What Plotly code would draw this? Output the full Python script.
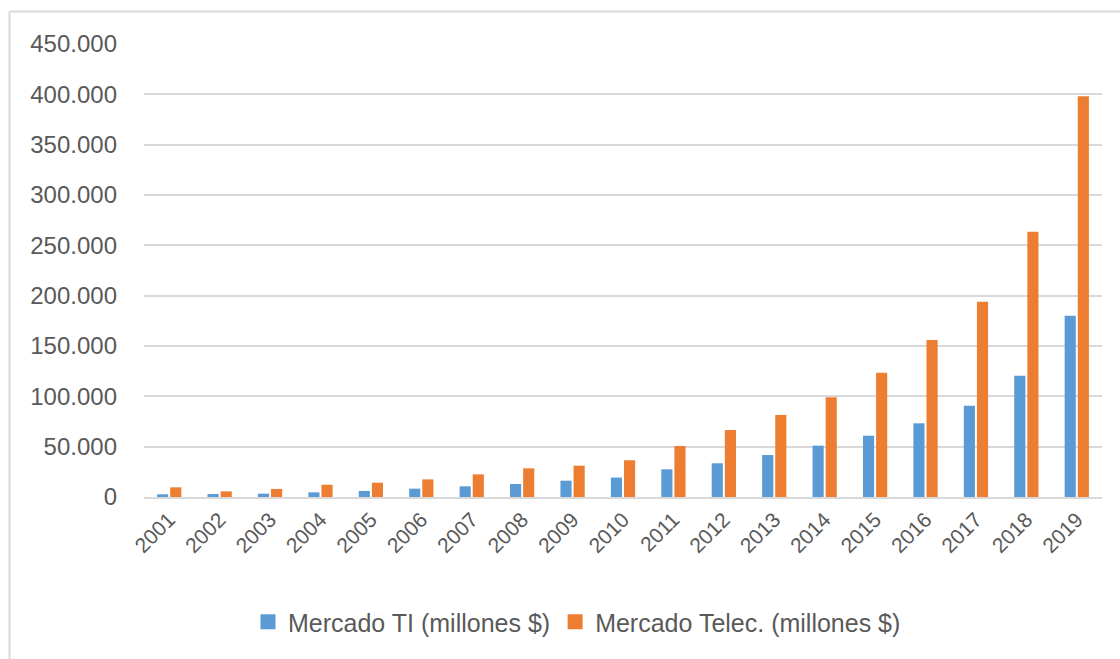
import plotly.graph_objects as go

# Annual market size, millions of dollars
years = [str(y) for y in range(2001, 2020)]
mercado_ti = [2700, 3000, 3300, 4600, 6000, 8300, 10600, 12900, 16200, 19300,
              27500, 33500, 41700, 51000, 60900, 73200, 90700, 120500, 180100]
mercado_telec = [9600, 5600, 8000, 12200, 14200, 17500, 22500, 28500, 31100, 36500,
                 50700, 66500, 81500, 99000, 123500, 156000, 194000, 263500, 398000]
y_ticks = [0, 50000, 100000, 150000, 200000, 250000, 300000, 350000, 400000, 450000]
y_tick_text = ["0", "50.000", "100.000", "150.000", "200.000", "250.000",
               "300.000", "350.000", "400.000", "450.000"]
series_names = ["Mercado TI (millones $)", "Mercado Telec. (millones $)"]

BLUE = "#5B9BD5"
ORANGE = "#ED7D31"
TEXT = "#595959"
GRID = "#D9D9D9"
FONT = "Liberation Sans, Arial, sans-serif"

fig = go.Figure()
fig.add_trace(go.Bar(x=years, y=mercado_ti, name=series_names[0], showlegend=False,
                     marker=dict(color=BLUE, line=dict(width=0))))
fig.add_trace(go.Bar(x=years, y=mercado_telec, name=series_names[1], showlegend=False,
                     marker=dict(color=ORANGE, line=dict(width=0))))

# Square legend keys
for name, color in zip(series_names, [BLUE, ORANGE]):
    fig.add_trace(go.Scatter(x=[None], y=[None], mode="markers", name=name,
                             marker=dict(symbol="square", size=15, color=color)))

W, H = 1120, 659
ml, mr, mt, mb = 144, 18, 44, 162
pw, ph = W - ml - mr, H - mt - mb

def px_x(p):
    return (p - ml) / pw

def px_y(p):
    return (H - mb - p) / ph

fig.update_layout(
    width=W, height=H,
    margin=dict(l=ml, r=mr, t=mt, b=mb),
    paper_bgcolor="white", plot_bgcolor="white",
    barmode="group", bargap=0.48, bargroupgap=0.15,
    font=dict(family=FONT, color=TEXT, size=22),
    showlegend=True,
    legend=dict(orientation="h", x=px_x(577), xanchor="center", y=px_y(622), yanchor="middle",
                font=dict(size=25, color=TEXT), itemsizing="trace",
                traceorder="normal", itemwidth=30, tracegroupgap=0),
    xaxis=dict(type="category", tickangle=-45, showgrid=False, ticks="",
               showline=True, linecolor=GRID, linewidth=2,
               tickfont=dict(size=21, color=TEXT)),
    yaxis=dict(range=[0, 450000], tickvals=y_ticks, ticktext=y_tick_text,
               showgrid=True, gridcolor=GRID, gridwidth=1.5, zeroline=False,
               showline=False, ticks="", ticklabelstandoff=26,
               tickfont=dict(size=24, color=TEXT)),
    shapes=[
        dict(type="line", xref="paper", yref="paper",
             x0=px_x(9.5), x1=px_x(W + 5), y0=px_y(11.5), y1=px_y(11.5),
             line=dict(color=GRID, width=2)),
        dict(type="line", xref="paper", yref="paper",
             x0=px_x(9.5), x1=px_x(9.5), y0=px_y(11.5), y1=px_y(H + 5),
             line=dict(color=GRID, width=2)),
    ],
)

fig.write_html("out.html")
